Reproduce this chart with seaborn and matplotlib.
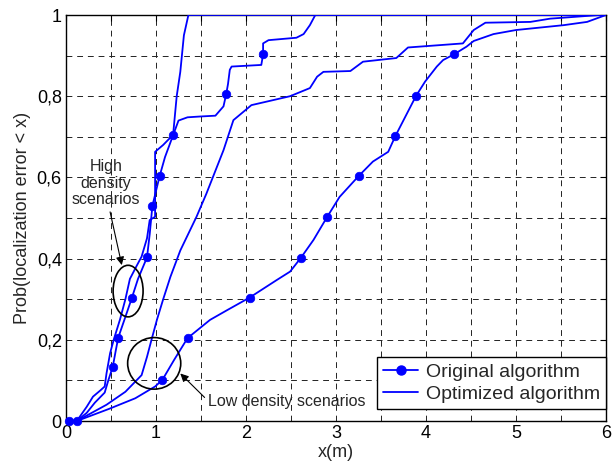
import numpy as np
import pandas as pd
import matplotlib
matplotlib.use("Agg")
import matplotlib.pyplot as plt
import seaborn as sns
from matplotlib.lines import Line2D
from matplotlib.patches import Ellipse

# ---------------- data ----------------
# High density, original algorithm
hd_orig_x = [0.03, 0.12, 0.23, 0.32, 0.43, 0.47, 0.52, 0.55, 0.58, 0.65, 0.73, 0.80, 0.90, 0.93,
             0.96, 1.04, 1.10, 1.19, 1.25, 1.35, 1.49, 1.66, 1.75, 1.78, 1.80, 1.82, 1.84, 2.17,
             2.19, 2.19, 2.25, 2.56, 2.64, 2.71, 2.77, 6.0]
hd_orig_y = [0.0, 0.0, 0.02, 0.045, 0.07, 0.10, 0.134, 0.17, 0.205, 0.25, 0.302, 0.35, 0.403, 0.46,
             0.53, 0.603, 0.65, 0.704, 0.74, 0.748, 0.75, 0.752, 0.775, 0.805, 0.83, 0.865, 0.873, 0.877,
             0.903, 0.93, 0.938, 0.944, 0.953, 0.975, 1.0, 1.0]
hd_mark_x = [0.03, 0.52, 0.58, 0.73, 0.90, 0.96, 1.04, 1.19, 1.78, 2.19]
hd_mark_y = [0.0, 0.134, 0.205, 0.302, 0.403, 0.53, 0.603, 0.704, 0.805, 0.903]

# High density, optimized algorithm
hd_opt_x = [0.12, 0.23, 0.30, 0.38, 0.43, 0.45, 0.49, 0.53, 0.60, 0.66, 0.71, 0.78, 0.84, 0.90,
            0.93, 0.99, 0.99, 1.08, 1.19, 1.23, 1.27, 1.31, 1.36, 6.0]
hd_opt_y = [0.0, 0.035, 0.06, 0.075, 0.085, 0.117, 0.167, 0.20, 0.25, 0.30, 0.35, 0.38, 0.405, 0.45,
            0.495, 0.503, 0.663, 0.68, 0.705, 0.80, 0.86, 0.95, 1.0, 1.0]

# Low density, original algorithm
ld_orig_x = [0.12, 0.48, 0.77, 0.99, 1.07, 1.20, 1.35, 1.60, 1.79, 2.04, 2.34, 2.49, 2.61, 2.75,
             2.90, 3.04, 3.25, 3.41, 3.58, 3.66, 3.79, 3.89, 3.99, 4.12, 4.19, 4.31, 4.45, 4.53,
             4.75, 5.00, 5.53, 5.79, 6.0]
ld_orig_y = [0.0, 0.03, 0.056, 0.085, 0.101, 0.15, 0.204, 0.249, 0.273, 0.304, 0.347, 0.368, 0.402, 0.446,
             0.502, 0.552, 0.603, 0.639, 0.663, 0.702, 0.758, 0.801, 0.836, 0.873, 0.889, 0.903, 0.922, 0.936,
             0.953, 0.963, 0.975, 0.983, 1.0]
ld_mark_x = [0.12, 1.07, 1.35, 2.04, 2.61, 2.90, 3.25, 3.66, 3.89, 4.31]
ld_mark_y = [0.0, 0.101, 0.204, 0.304, 0.402, 0.502, 0.603, 0.702, 0.801, 0.903]

# Low density, optimized algorithm
ld_opt_x = [0.12, 0.45, 0.66, 0.84, 0.90, 0.95, 1.01, 1.08, 1.16, 1.27, 1.45, 1.56, 1.75, 1.86,
            2.06, 2.49, 2.60, 2.71, 2.79, 2.86, 3.16, 3.30, 3.67, 3.80, 4.41, 4.53, 4.66, 5.16,
            5.38, 5.93, 6.0]
ld_opt_y = [0.0, 0.04, 0.072, 0.113, 0.158, 0.20, 0.249, 0.30, 0.355, 0.42, 0.503, 0.56, 0.667, 0.741,
            0.778, 0.80, 0.81, 0.82, 0.848, 0.86, 0.862, 0.885, 0.894, 0.92, 0.93, 0.963, 0.981, 0.983,
            0.991, 1.0, 1.0]

x_tick_labels = ["0", "1", "2", "3", "4", "5", "6"]
y_tick_labels = ["0", "0,2", "0,4", "0,6", "0,8", "1"]
legend_labels = ["Original algorithm", "Optimized algorithm"]

# ---------------- style ----------------
sns.set_style("white")
plt.rcParams["font.family"] = ["Liberation Sans", "DejaVu Sans"]
BLUE = "#0000ff"

fig = plt.figure(figsize=(6.14, 4.66), dpi=100)
ax = fig.add_axes([66 / 614, 45 / 466, 540 / 614, 406 / 466])

curves = [(hd_orig_x, hd_orig_y), (hd_opt_x, hd_opt_y), (ld_orig_x, ld_orig_y), (ld_opt_x, ld_opt_y)]
for cx, cy in curves:
    df = pd.DataFrame({"x": cx, "y": cy})
    sns.lineplot(data=df, x="x", y="y", sort=False, estimator=None, color=BLUE,
                 linewidth=1.3, ax=ax, legend=False, zorder=3)

for mx, my in [(hd_mark_x, hd_mark_y), (ld_mark_x, ld_mark_y)]:
    dm = pd.DataFrame({"x": mx, "y": my})
    sns.scatterplot(data=dm, x="x", y="y", color=BLUE, s=38, edgecolor=BLUE,
                    linewidth=0.5, ax=ax, legend=False, zorder=4, clip_on=False)

ax.set_xlim(0, 6)
ax.set_ylim(0, 1)
xt = np.arange(0, 6.01, 0.5)
yt = np.arange(0, 1.001, 0.1)
ax.set_xticks(xt)
ax.set_yticks(yt)
xl = []
i = 0
for v in xt:
    if abs(v - round(v)) < 1e-9:
        xl.append(x_tick_labels[i]); i += 1
    else:
        xl.append("")
yl = []
j = 0
for k, v in enumerate(yt):
    if k % 2 == 0:
        yl.append(y_tick_labels[j]); j += 1
    else:
        yl.append("")
ax.set_xticklabels(xl)
ax.set_yticklabels(yl)
ax.tick_params(direction="in", length=4, width=0.8, top=True, right=True,
               labelsize=13, colors="black", pad=3)
ax.grid(True, color="#222222", linestyle=(0, (6, 5)), linewidth=0.7)
for s in ax.spines.values():
    s.set_color("black")
    s.set_linewidth(1.0)

ax.set_xlabel("x(m)", fontsize=13, labelpad=1)
ax.set_ylabel("Prob(localization error < x)", fontsize=13, labelpad=4)

# annotations
ax.add_patch(Ellipse((0.69, 0.32), 0.333, 0.127, fill=False, ec="black", lw=1.2, zorder=5))
ax.add_patch(Ellipse((0.98, 0.142), 0.59, 0.127, fill=False, ec="black", lw=1.2, zorder=5))
ax.text(0.445, 0.586, "High\ndensity\nscenarios", fontsize=11.5, ha="center", va="center",
        linespacing=1.1, zorder=6)
ax.annotate("", xy=(0.62, 0.384), xytext=(0.49, 0.515),
            arrowprops=dict(arrowstyle="-|>", color="black", lw=0.8, mutation_scale=12,
                            shrinkA=0, shrinkB=0), zorder=6)
ax.text(1.58, 0.047, "Low density scenarios", fontsize=11.5, ha="left", va="center", zorder=6)
ax.annotate("", xy=(1.27, 0.117), xytext=(1.54, 0.058),
            arrowprops=dict(arrowstyle="-|>", color="black", lw=0.8, mutation_scale=12,
                            shrinkA=0, shrinkB=0), zorder=6)

handles = [Line2D([], [], color=BLUE, lw=1.3, marker="o", markersize=6.5),
           Line2D([], [], color=BLUE, lw=1.3)]
leg = ax.legend(handles, legend_labels, loc="lower right", bbox_to_anchor=(1.0, 0.03),
                fontsize=14, frameon=True, fancybox=False, framealpha=1, edgecolor="black",
                borderaxespad=0, handlelength=1.8, borderpad=0.3, labelspacing=0.25,
                handletextpad=0.4)
leg.get_frame().set_linewidth(1.0)
leg.set_zorder(10)

fig.savefig("out.png", dpi=100)
